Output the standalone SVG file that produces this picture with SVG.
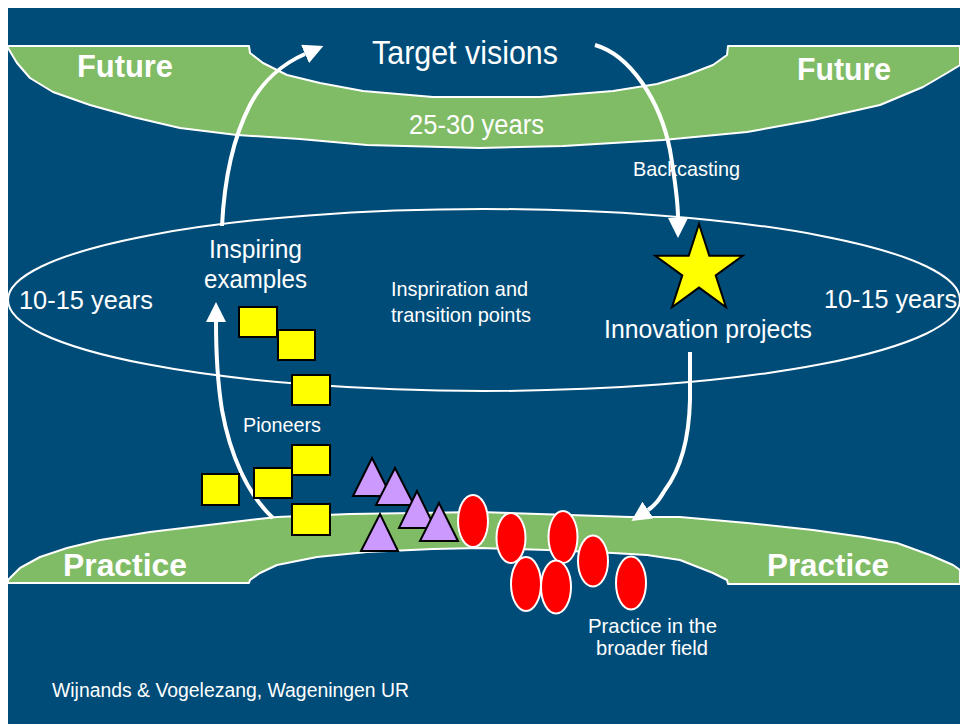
<svg xmlns="http://www.w3.org/2000/svg" width="960" height="724" viewBox="0 0 960 724">
  <style>
    .band { fill: #80BB66; stroke: #FFFFFF; stroke-width: 2; stroke-linejoin: round; }
    .ring { fill: none; stroke: #FFFFFF; stroke-width: 2; }
    .t { font-family: "Liberation Sans", Arial, sans-serif; fill: #FFFFFF; }
    .b { font-family: "Liberation Sans", Arial, sans-serif; font-weight: bold; fill: #FFFFFF; font-size: 32px; }
    .sq { fill: #FFFF00; stroke: #000000; stroke-width: 2; }
    .tri { fill: #CC99FF; stroke: #000000; stroke-width: 2; stroke-linejoin: miter; }
    .ov { fill: #FF0000; stroke: #FFFFFF; stroke-width: 2; }
    .conn { fill: none; stroke: #FFFFFF; stroke-width: 4; stroke-linecap: butt; }
  </style>
  <defs>
    <marker id="head" viewBox="0 0 20 20" refX="0" refY="10" markerWidth="20" markerHeight="20" markerUnits="userSpaceOnUse" orient="auto">
      <path d="M0,0 L20,10 L0,20 Z" fill="#FFFFFF"/>
    </marker>
  </defs>

  <rect x="0" y="0" width="960" height="724" fill="#FFFFFF"/>
  <rect x="8" y="8" width="952" height="716" fill="#004C78"/>

  <g id="future-band">
    <path class="band" d="M8,46 L249,46 L250,53 L263,63 L287,75 L320,83 L363,91 L433,97 L480,97 L540,97 L613,91 L657,84 L687,75 L713,65 L727,55 L728,46 L960,46 L960,65 L947,73 L923,87 L880,105 L813,120 L747,132 L663,140 L563,146 L480,148 L367,145 L300,139 L237,135 L180,128 L133,117 L90,105 L53,92 L30,78 L17,63 L8,48 Z"/>
    <text class="b" x="77" y="77" textLength="96" lengthAdjust="spacingAndGlyphs">Future</text>
    <text class="b" x="797" y="80" textLength="94" lengthAdjust="spacingAndGlyphs">Future</text>
    <text class="t" x="409" y="134" font-size="27" textLength="135" lengthAdjust="spacingAndGlyphs">25-30 years</text>
  </g>

  <g id="practice-band">
    <path class="band" d="M8,583 L8,580 L20,568 L40,557 L67,548 L100,540 L150,532 L200,526 L250,520 L277,517 L350,514 L480,512 L630,517 L680,517 L747,523 L813,530 L863,537 L897,543 L930,555 L953,565 L960,570 L960,584 L728,584 L727,580 L713,573 L680,560 L647,555 L613,553 L547,550 L480,548 L433,549 L367,552 L317,557 L277,565 L260,573 L250,580 L249,583 Z"/>
    <text class="b" x="63" y="576" textLength="124" lengthAdjust="spacingAndGlyphs">Practice</text>
    <text class="b" x="767" y="576" textLength="122" lengthAdjust="spacingAndGlyphs">Practice</text>
  </g>

  <g id="mid-term">
    <ellipse class="ring" cx="484" cy="300" rx="476" ry="91"/>
    <text class="t" x="19" y="309" font-size="26" textLength="134" lengthAdjust="spacingAndGlyphs">10-15 years</text>
    <text class="t" x="824" y="308" font-size="26" textLength="133" lengthAdjust="spacingAndGlyphs">10-15 years</text>
    <text class="t" x="391" y="296" font-size="21" textLength="137" lengthAdjust="spacingAndGlyphs">Inspriration and</text>
    <text class="t" x="391" y="322" font-size="21" textLength="140" lengthAdjust="spacingAndGlyphs">transition points</text>
  </g>

  <g id="target-visions">
    <text class="t" x="372" y="64" font-size="34" textLength="186" lengthAdjust="spacingAndGlyphs">Target visions</text>
  </g>

  <g id="backcasting">
    <text class="t" x="633" y="176" font-size="21" textLength="107" lengthAdjust="spacingAndGlyphs">Backcasting</text>
  </g>

  <g id="inspiring-examples">
    <text class="t" x="209" y="258" font-size="26" textLength="93" lengthAdjust="spacingAndGlyphs">Inspiring</text>
    <text class="t" x="204" y="288" font-size="26" textLength="103" lengthAdjust="spacingAndGlyphs">examples</text>
  </g>

  <g id="innovation-projects">
    <polygon points="699,224 709.3,255.8 742.7,255.8 715.7,275.4 726,307.2 699,287.6 672,307.2 682.3,275.4 655.3,255.8 688.7,255.8" fill="#FFFF00" stroke="#000000" stroke-width="2" stroke-linejoin="miter"/>
    <text class="t" x="604" y="338" font-size="26" textLength="208" lengthAdjust="spacingAndGlyphs">Innovation projects</text>
  </g>

  <g id="connectors">
    <path class="conn" d="M273,518 C248,495 230,455 222,410 C218,385 216,350 216,322" marker-end="url(#head)"/>
    <path class="conn" d="M222,226 C224,185 232,140 250,105 C262,82 282,64 305,54" marker-end="url(#head)"/>
    <path class="conn" d="M595,45 C630,55 660,100 670,150 C675,180 678,200 678,218" marker-end="url(#head)"/>
    <path class="conn" d="M690,352 L690,400 C689,440 680,470 665,490 C660,498 657,504 648,510" marker-end="url(#head)"/>
  </g>

  <g id="pioneers">
    <rect class="sq" x="239" y="307" width="38" height="30"/>
    <rect class="sq" x="278" y="330" width="37" height="30"/>
    <rect class="sq" x="292" y="375" width="38" height="30"/>
    <rect class="sq" x="292" y="445" width="38" height="30"/>
    <rect class="sq" x="254" y="468" width="38" height="30"/>
    <rect class="sq" x="202" y="474" width="37" height="31"/>
    <rect class="sq" x="292" y="504" width="38" height="31"/>
    <text class="t" x="243" y="432" font-size="21" textLength="78" lengthAdjust="spacingAndGlyphs">Pioneers</text>
  </g>

  <g id="followers">
    <polygon class="tri" points="372,458 353,496 391,496"/>
    <polygon class="tri" points="395,468 376,505 414,505"/>
    <polygon class="tri" points="417,491 399,528 435,528"/>
    <polygon class="tri" points="439,503 420,541 458,541"/>
    <polygon class="tri" points="380,514 361,551 398,551"/>
  </g>

  <g id="broader-field">
    <ellipse class="ov" cx="473" cy="521" rx="15" ry="26"/>
    <ellipse class="ov" cx="511" cy="538" rx="14.5" ry="25"/>
    <ellipse class="ov" cx="563" cy="537" rx="14.5" ry="26"/>
    <ellipse class="ov" cx="593" cy="561" rx="15" ry="25.5"/>
    <ellipse class="ov" cx="526" cy="584" rx="15" ry="27"/>
    <ellipse class="ov" cx="556" cy="587" rx="15" ry="26.5"/>
    <ellipse class="ov" cx="631" cy="583" rx="15" ry="26.5"/>
    <text class="t" x="588" y="633" font-size="21" textLength="129" lengthAdjust="spacingAndGlyphs">Practice in the</text>
    <text class="t" x="596" y="655" font-size="21" textLength="112" lengthAdjust="spacingAndGlyphs">broader field</text>
  </g>

  <g id="credit">
    <text class="t" x="52" y="697" font-size="20" textLength="357" lengthAdjust="spacingAndGlyphs">Wijnands &amp; Vogelezang, Wageningen UR</text>
  </g>
</svg>
